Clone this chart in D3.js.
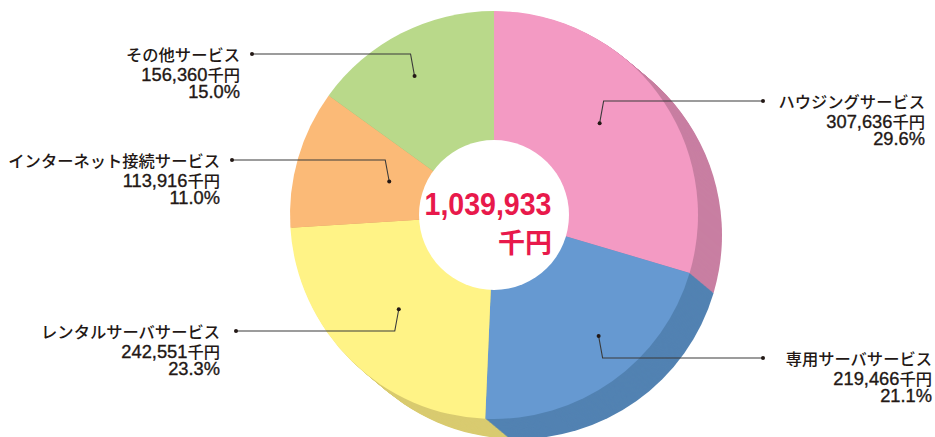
<!DOCTYPE html>
<html lang="ja">
<head>
<meta charset="UTF-8">
<title></title>
<style type="text/css">
    body { margin:0; background:#fff }
    .name, .yen { font-family:"Noto Sans CJK JP", sans-serif; font-size:16.3px; fill:#231815; font-weight:500 }
    .num { font-family:"Liberation Sans", Arial, sans-serif; font-size:18.3px; fill:#231815; stroke:#231815; stroke-width:0.35px }
</style>
</head>
<body>
<script src="https://d3js.org/d3.v7.min.js"></script>
<script>
    // data
    var categories = ['ハウジングサービス', '専用サーバサービス', 'レンタルサーバサービス', 'インターネット接続サービス', 'その他サービス'];
    var values = [307636, 219466, 242551, 113916, 156360];
    var total = 1039933;
    var colors = ['#f39ac3', '#6699d1', '#fff386', '#fbba77', '#b9d98a'];
    var sideColors = ['#c87fa2', '#5282b2', '#d9cb70', '#d49b62', '#99b772'];

    // label layout: line height, dot end, text right edge
    var labelY = [101, 358, 331, 160, 54];
    var labelEndX = [763, 763, 236, 232, 252];
    var textRight = [925, 932, 220, 220, 240];
    var anchorFrac = [0.46, 0.43, 0.51, 0.54, 0.45];
    var anchorR = [140, 160, 134, 110, 160];

    var width = 935,
        height = 437,
        cx = 494, cy = 215,
        radius = 204,
        holeR = 75,
        depthX = 24, depthY = 20;

    var svg = d3.select('body').append('svg')
        .attr('width', width)
        .attr('height', height);

    var pie = d3.pie().sort(null).value(function(d){ return d; });
    var arcs = pie(values);
    var arc = d3.arc().innerRadius(0).outerRadius(radius);

    // extruded side
    var steps = 24;
    for (var k = steps; k >= 1; k--) {
        var t = k / steps;
        svg.append('g')
            .attr('transform', 'translate(' + (cx + depthX * t) + ',' + (cy + depthY * t) + ')')
            .selectAll('path')
            .data(arcs)
            .enter()
            .append('path')
            .attr('d', arc)
            .attr('fill', function(d, i){ return sideColors[i]; });
    }

    var face = svg.append('g').attr('transform', 'translate(' + cx + ',' + cy + ')');
    face.selectAll('path')
        .data(arcs)
        .enter()
        .append('path')
        .attr('d', arc)
        .attr('fill', function(d, i){ return colors[i]; });

    face.append('circle').attr('r', holeR).attr('fill', '#fff');

    face.append('text')
        .attr('x', -6).attr('y', 0)
        .attr('text-anchor', 'middle')
        .attr('textLength', 127).attr('lengthAdjust', 'spacingAndGlyphs')
        .style('font-family', '"Liberation Sans Narrow", "Liberation Sans", sans-serif')
        .style('font-weight', 'bold').style('font-size', '32px')
        .style('fill', '#e8194b')
        .text(d3.format(',')(total));

    face.append('text')
        .attr('x', 58).attr('y', 38)
        .attr('text-anchor', 'end')
        .style('font-family', '"Noto Sans CJK JP", sans-serif')
        .style('font-weight', 'bold').style('font-size', '27px')
        .style('fill', '#e8194b')
        .text('千円');

    // leader lines
    var leaders = svg.append('g');
    arcs.forEach(function(d, i){
        var a = d.startAngle + anchorFrac[i] * (d.endAngle - d.startAngle);
        var ax = cx + anchorR[i] * Math.sin(a),
            ay = cy - anchorR[i] * Math.cos(a);
        var side = labelEndX[i] > cx ? 1 : -1;
        var ex = ax + 4 * side;
        leaders.append('polyline')
            .attr('points', [[ax, ay], [ex, labelY[i]], [labelEndX[i], labelY[i]]].join(' '))
            .attr('fill', 'none')
            .attr('stroke', '#3a3a3a')
            .attr('stroke-width', 1.1);
        leaders.append('circle').attr('cx', ax).attr('cy', ay).attr('r', 2).attr('fill', '#231815');
        leaders.append('circle').attr('cx', labelEndX[i]).attr('cy', labelY[i]).attr('r', 2).attr('fill', '#231815');

        var x = textRight[i], y = labelY[i];
        svg.append('text').attr('class', 'name')
            .attr('x', x).attr('y', y + 6.5)
            .attr('text-anchor', 'end')
            .text(categories[i]);
        var t2 = svg.append('text')
            .attr('x', x).attr('y', y + 26.5)
            .attr('text-anchor', 'end');
        t2.append('tspan').attr('class', 'num').text(d3.format(',')(values[i]));
        t2.append('tspan').attr('class', 'yen').text('千円');
        svg.append('text').attr('class', 'num')
            .attr('x', x).attr('y', y + 43.5)
            .attr('text-anchor', 'end')
            .text(d3.format('.1%')(values[i] / total));
    });
</script>
</body>
</html>
